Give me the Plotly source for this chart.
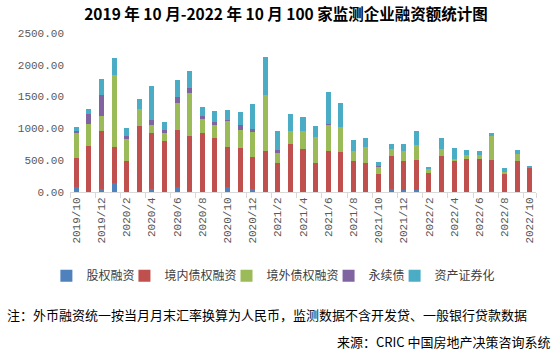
import plotly.graph_objects as go

months = ["2019/10", "2019/11", "2019/12"] + \
    [f"2020/{m}" for m in range(1, 13)] + \
    [f"2021/{m}" for m in range(1, 13)] + \
    [f"2022/{m}" for m in range(1, 11)]

equity = [73, 0, 42, 136, 0, 0, 42, 0, 84, 16, 0, 0, 73, 0, 42, 0, 0, 0, 0, 0,
          0, 0, 0, 0, 0, 47, 37, 37, 0, 0, 0, 0, 0, 16, 0, 0, 0]
domestic_debt = [456, 718, 922, 566, 493, 1043, 891, 807, 896, 870, 922, 844, 629, 687, 503,
                 650, 451, 749, 671, 461, 650, 634, 493, 461, 288, 514, 456, 471, 304, 571,
                 493, 524, 524, 492, 288, 493, 383]
overseas_debt = [393, 356, 236, 1143, 346, 262, 126, 126, 425, 676, 231, 215, 420, 293, 409,
                 880, 167, 215, 293, 399, 409, 393, 146, 252, 110, 120, 157, 226, 63, 110,
                 31, 63, 52, 378, 32, 110, 0]
perpetual = [37, 158, 330, 0, 36, 0, 68, 37, 94, 78, 47, 47, 15, 73, 31,
             0, 37, 0, 0, 0, 15, 0, 0, 0, 16, 0, 0, 0, 0, 0,
             0, 0, 0, 0, 0, 0, 0]
abs_sec = [68, 78, 252, 267, 126, 162, 545, 136, 267, 268, 142, 173, 147, 210, 404,
           598, 309, 268, 221, 183, 504, 378, 184, 141, 63, 79, 110, 230, 31, 173,
           173, 79, 74, 47, 63, 63, 31]

series_names = ["股权融资", "境内债权融资", "境外债权融资", "永续债", "资产证券化"]
series_values = [equity, domestic_debt, overseas_debt, perpetual, abs_sec]
colors = ["#4F81BD", "#C0504D", "#9BBB59", "#8064A2", "#4BACC6"]
y_ticks = [0, 500, 1000, 1500, 2000, 2500]
tick_labels = months[::2]

FONT = "Noto Sans CJK SC"
MONO = "Liberation Mono"

W, H = 560, 358
PL, PR, PT, PB = 70, 535.7, 33.3, 192.3   # plot area in window pixels
PW, PH = PR - PL, PB - PT


def px_x(x):
    return (x - PL) / PW


def px_y(y):
    return (PB - y) / PH


# one legend per series so the row can be laid out like the reference
LEG_FONT = 12
legend_ids = ["legend", "legend2", "legend3", "legend4", "legend5"]
entry_w = [26 + LEG_FONT * len(n) for n in series_names]
gap = 4
total = sum(entry_w) + gap * (len(entry_w) - 1)
start = 277.4 - total / 2
legend_left = []
pos = start
for ew in entry_w:
    legend_left.append(pos - 14)
    pos += ew + gap

fig = go.Figure()
for name, vals, c, lid in zip(series_names, series_values, colors, legend_ids):
    fig.add_trace(go.Bar(x=months, y=vals, name=name, marker_color=c,
                         marker_line_width=0, legend=lid))

layout_legends = {}
for lid, lx in zip(legend_ids, legend_left):
    layout_legends[lid] = dict(x=px_x(lx), xanchor="left",
                               y=px_y(276), yanchor="middle",
                               orientation="h", bgcolor="rgba(0,0,0,0)",
                               font=dict(family=FONT, size=LEG_FONT, color="#404040"))

fig.update_layout(
    barmode="stack",
    bargap=0.6,
    width=W, height=H,
    margin=dict(l=PL, r=W - PR, t=PT, b=H - PB, pad=0),
    paper_bgcolor="white", plot_bgcolor="white",
    font=dict(family=FONT, size=11, color="#595959"),
    title=dict(text="<b>2019 年 10 月-2022 年 10 月 100 家监测企业融资额统计图</b>",
               x=286 / W, xanchor="center", y=1 - 15 / H, yanchor="middle",
               font=dict(family=FONT, size=15.5, color="black")),
    showlegend=True,
    **layout_legends,
)
fig.update_yaxes(range=[0, 2500], tickvals=y_ticks,
                 tickformat=".2f", showgrid=False, zeroline=False,
                 showline=False, ticks="", ticklabelstandoff=5,
                 tickfont=dict(family=MONO, size=11, color="#595959"))
fig.update_xaxes(type="category", tickvals=tick_labels, ticktext=tick_labels,
                 tickangle=-90, showline=True, linecolor="#D9D9D9", linewidth=1,
                 ticks="outside", ticklen=5, tickcolor="#D9D9D9", tickson="boundaries",
                 showgrid=False, tickfont=dict(family=MONO, size=11, color="#595959"))

fig.add_annotation(text="注：外币融资统一按当月月末汇率换算为人民币，监测数据不含开发贷、一般银行贷款数据",
                   xref="paper", yref="paper", x=px_x(5), xanchor="left",
                   y=px_y(315), yanchor="middle", showarrow=False,
                   font=dict(family=FONT, size=13, color="black"))
fig.add_annotation(text="来源：CRIC 中国房地产决策咨询系统",
                   xref="paper", yref="paper", x=px_x(553), xanchor="right",
                   y=px_y(342), yanchor="middle", showarrow=False,
                   font=dict(family=FONT, size=13, color="black"))

fig.write_html("out.html", config={"displayModeBar": False},
               post_script="document.body.style.margin='0';document.body.style.padding='0';")
